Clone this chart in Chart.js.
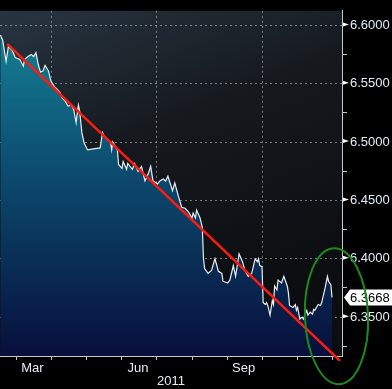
<!DOCTYPE html>
<html>
<head>
<meta charset="utf-8">
<script src="https://cdn.jsdelivr.net/npm/chart.js@4.4.1/dist/chart.umd.min.js"></script>
<style>
html,body{margin:0;padding:0;background:#000;}
#wrap{width:392px;height:389px;}
</style>
</head>
<body>
<div id="wrap"><canvas id="fx"></canvas></div>
<script>
// day of year 2011 (Jan 1 = 0) and fixing rate
var days=[45,47,50,52,55,58,62,65,66,69,72,74,76,78,80,82,84,87,89,92,94,97,99,101,104,107,109,111,113,114,
  116,118,121,126,132,134,136,141,142,143,147,148,151,152,155,156,160,162,165,168,171,174,176,178,182,184,187,189,191,195,
  197,200,203,206,209,212,213,215,216,219,221,222,223,226,229,232,235,238,239,243,245,248,250,253,256,258,261,264,267,269,
  270,271,273,274,276,277,278,280,282,283,284,286,287,290,292,295,296,297,300,302,303,304,306,308,309,312,313,315,317,318,
  319,322,324,325,328,330,331,333,334];
var rates=[6.5917,6.5875,6.5692,6.5817,6.5792,6.5725,6.5708,6.5650,6.5708,6.5733,6.5750,6.5733,6.5767,6.5667,6.5600,6.5608,6.5658,6.5608,6.5525,6.5475,
  6.5458,6.5425,6.5375,6.5358,6.5308,6.5317,6.5275,6.5167,6.5317,6.5275,6.5083,6.4992,6.4933,6.4942,6.4950,6.5083,6.5042,6.5000,6.4933,6.5000,
  6.4933,6.4808,6.4775,6.4833,6.4767,6.4817,6.4767,6.4817,6.4750,6.4792,6.4667,6.4733,6.4792,6.4667,6.4642,6.4667,6.4683,6.4667,6.4708,6.4583,
  6.4650,6.4542,6.4442,6.4433,6.4400,6.4350,6.4392,6.4350,6.4417,6.4350,6.4267,6.4000,6.3917,6.3875,6.3900,6.4000,6.3892,6.3875,6.3808,6.3792,
  6.3817,6.3942,6.3850,6.4042,6.3975,6.3900,6.3850,6.3875,6.4000,6.3975,6.4000,6.3942,6.3933,6.3625,6.3608,6.3625,6.3600,6.3517,6.3642,6.3608,
  6.3767,6.3733,6.3817,6.3792,6.3850,6.3767,6.3708,6.3600,6.3583,6.3608,6.3558,6.3583,6.3483,6.3500,6.3483,6.3558,6.3517,6.3542,6.3525,6.3567,
  6.3558,6.3608,6.3600,6.3625,6.3750,6.3850,6.3808,6.3775,6.3668];
var trendDays=[51,341];
var trendRates=[6.5842,6.3125];
var lastRate=6.3668;

var monthStarts=[59,90,120,151,181,212,243,273,304,334];
var quarterStarts=[90,181,273];
var monthLabels=['Mar','Jun','Sep'];
var monthLabelDays=[73,165,257];
var yearLabel='2011';
var yTicks=[6.325,6.35,6.375,6.4,6.425,6.45,6.475,6.5,6.525,6.55,6.575,6.6];

// highlight ring, in data units
var ringDay=337.9, ringRate=6.3508, ringDays=27.5, ringRates=0.0583;

function isMajor(v){return Math.round(v*1000)%50===0;}

var decor={
  id:'decor',
  beforeDraw:function(chart){
    var c=chart.ctx,a=chart.chartArea;
    c.save();
    c.fillStyle='#000';
    c.fillRect(0,0,chart.width,chart.height);
    var g=c.createLinearGradient(a.left,a.top,a.left+a.width*0.4,a.bottom);
    g.addColorStop(0,'#283541');
    g.addColorStop(0.45,'#15191e');
    g.addColorStop(1,'#0b0d10');
    c.fillStyle=g;
    c.fillRect(a.left,a.top,a.width,a.height);
    c.restore();
  },
  afterDraw:function(chart){
    var c=chart.ctx,y=chart.scales.y,x=chart.scales.x,ax=y.left;
    c.save();
    c.fillStyle='#ffffff';
    yTicks.forEach(function(v){
      if(!isMajor(v))return;
      var py=y.getPixelForValue(v);
      c.beginPath();
      c.moveTo(ax+1,py-3);
      c.lineTo(ax+7,py-1);
      c.lineTo(ax+1,py+1);
      c.closePath();
      c.fill();
    });
    var ly=y.getPixelForValue(lastRate);
    c.beginPath();
    c.moveTo(ax+2,ly);
    c.lineTo(ax+8,ly-8);
    c.lineTo(chart.width,ly-8);
    c.lineTo(chart.width,ly+8);
    c.lineTo(ax+8,ly+8);
    c.closePath();
    c.fill();
    c.fillStyle='#000';
    c.font='13px "Liberation Sans", Arial, sans-serif';
    c.textBaseline='middle';
    c.fillText(lastRate.toFixed(4),ax+8,ly+1);

    var cx=x.getPixelForValue(ringDay),cy=y.getPixelForValue(ringRate);
    var rx=x.getPixelForValue(ringDay+ringDays)-cx;
    var ry=cy-y.getPixelForValue(ringRate+ringRates);
    c.strokeStyle='#1c8a1c';
    c.lineWidth=2;
    c.beginPath();
    c.ellipse(cx,cy,rx,ry,-0.04,0,Math.PI*2);
    c.stroke();
    c.restore();
  }
};

var ctx=document.getElementById('fx').getContext('2d');
var fxChart=new Chart(ctx,{
  type:'line',
  data:{
    datasets:[{
      data:trendDays.map(function(d,i){return {x:d,y:trendRates[i]};}),
      borderColor:'#ff1a10',
      borderWidth:2.5,
      pointRadius:0,
      fill:false,
      order:0,
      clip:{left:0,top:0,right:3,bottom:5}
    },{
      data:days.map(function(d,i){return {x:d,y:rates[i]};}),
      borderColor:'#e8eef2',
      borderWidth:1.2,
      pointRadius:0,
      tension:0,
      fill:'start',
      order:1,
      backgroundColor:function(c){
        var a=c.chart.chartArea;
        if(!a)return '#12607a';
        var g=c.chart.ctx.createLinearGradient(0,a.top,0,a.bottom);
        g.addColorStop(0,'#15889a');
        g.addColorStop(0.45,'#0c4d70');
        g.addColorStop(1,'#070f3c');
        return g;
      }
    }]
  },
  options:{
    responsive:true,
    maintainAspectRatio:false,
    animation:false,
    layout:{padding:0},
    plugins:{legend:{display:false},tooltip:{enabled:false}},
    scales:{
      x:{
        type:'linear',
        min:44.7,
        max:342.7,
        z:1,
        afterBuildTicks:function(s){
          var t=monthStarts.concat(monthLabelDays).sort(function(a,b){return a-b;});
          s.ticks=t.map(function(v){return {value:v};});
        },
        afterFit:function(s){s.height=33;},
        border:{color:'#c8c8c8',width:1,dash:[2,3]},
        grid:{
          color:function(c){return c.tick&&quarterStarts.indexOf(c.tick.value)>=0?'rgba(200,200,200,0.55)':'transparent';},
          tickColor:function(c){return c.tick&&monthStarts.indexOf(c.tick.value)>=0?'#c8c8c8':'transparent';},
          tickLength:4,
          lineWidth:1
        },
        ticks:{
          autoSkip:false,
          maxRotation:0,
          minRotation:0,
          padding:1,
          color:'#e3ecf5',
          font:{family:'Liberation Sans',size:13},
          callback:function(v){var i=monthLabelDays.indexOf(v);return i<0?'':monthLabels[i];}
        },
        title:{
          display:true,
          text:yearLabel,
          color:'#e3ecf5',
          font:{family:'Liberation Sans',size:13},
          padding:{top:0,bottom:0}
        }
      },
      y:{
        position:'right',
        min:6.3167,
        max:6.6125,
        z:1,
        afterBuildTicks:function(s){s.ticks=yTicks.map(function(v){return {value:v};});},
        afterFit:function(s){s.width=50;},
        border:{color:'#c8c8c8',width:1,dash:[2,3]},
        grid:{
          color:function(c){return c.tick&&isMajor(c.tick.value)?'rgba(200,200,200,0.55)':'transparent';},
          tickColor:function(c){return c.tick&&isMajor(c.tick.value)?'transparent':'#c8c8c8';},
          tickLength:5,
          lineWidth:1
        },
        ticks:{
          padding:3,
          color:'#e3ecf5',
          font:{family:'Liberation Sans',size:13},
          callback:function(v){return isMajor(v)?v.toFixed(4):'';}
        }
      }
    }
  },
  plugins:[decor]
});
</script>
</body>
</html>
